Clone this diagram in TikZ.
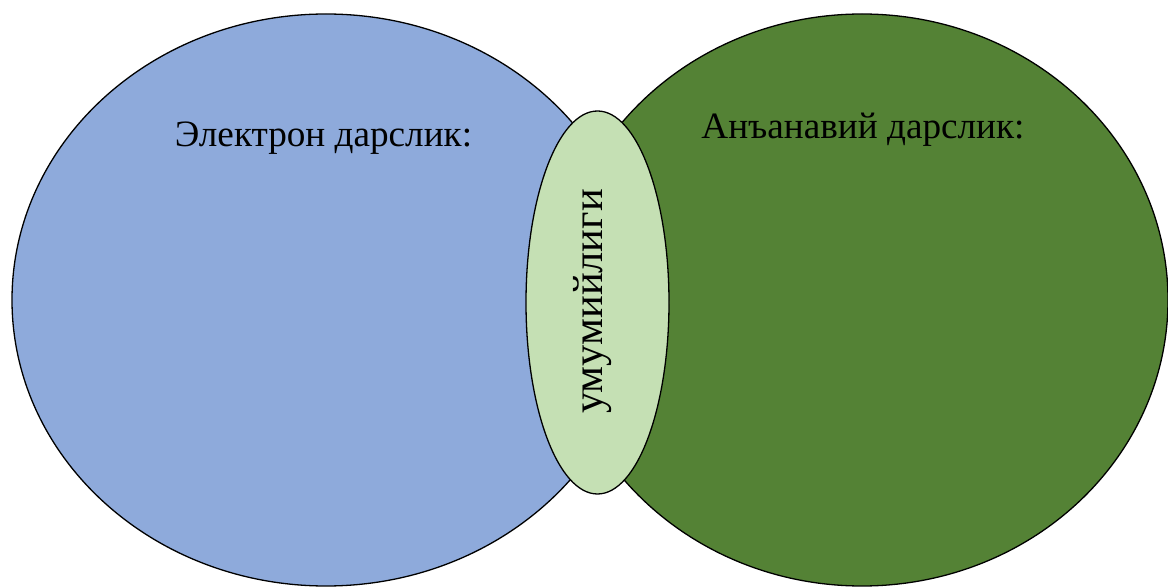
\documentclass[tikz,border=0pt]{standalone}
\usepackage{fontspec}
\setmainfont{Liberation Serif}
\definecolor{eblue}{HTML}{8EAADB}
\definecolor{dgreen}{HTML}{548235}
\definecolor{lgreen}{HTML}{C5E0B4}
\begin{document}
\begin{tikzpicture}[x=1pt,y=1pt,
  circ/.style={draw=black,line width=1.3pt},
  lbl/.style={font=\fontsize{37.2}{42}\selectfont,text=black,inner sep=0pt,anchor=base},
  vlbl/.style={font=\fontsize{42.5}{48}\selectfont,text=black,inner sep=0pt,anchor=base,rotate=90}]
\useasboundingbox (0,0) rectangle (1168,587);
\fill[eblue,circ] (326,287) ellipse [x radius=314,y radius=286];
\fill[dgreen,circ] (862,287) ellipse [x radius=306,y radius=286];
\fill[lgreen,circ] (597.5,284.5) ellipse [x radius=71.5,y radius=191.5];
\node[lbl] (el) at (323.5,440) {Электрон дарслик:};
\node[lbl] (an) at (863,448) {Анъанавий дарслик:};
\node[vlbl] (um) at (602,285.5) {умумийлиги};
\end{tikzpicture}
\end{document}
